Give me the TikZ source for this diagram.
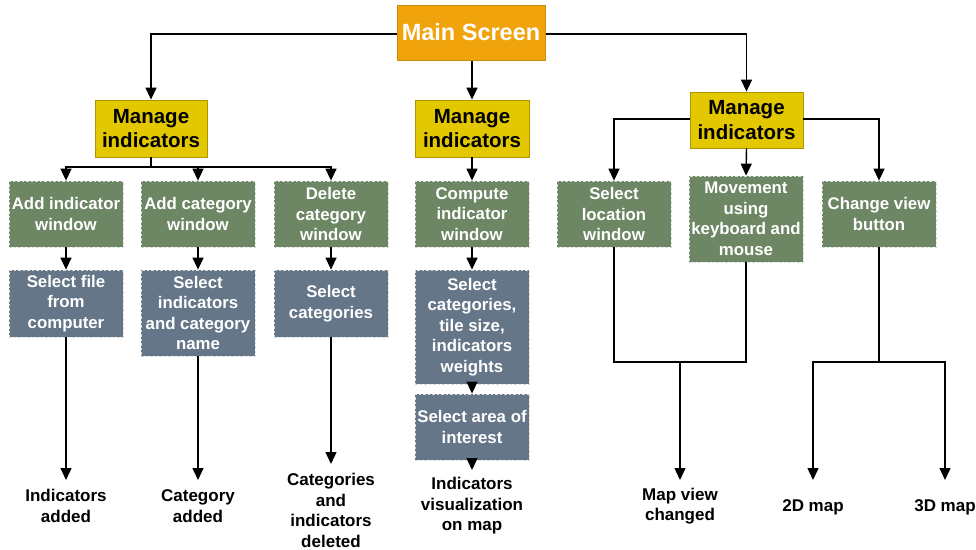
\documentclass[tikz,border=0pt]{standalone}
\usepackage{fontspec}
\setmainfont{Liberation Sans}
\usetikzlibrary{arrows.meta}
\definecolor{mainfill}{HTML}{F0A30A}
\definecolor{mainline}{HTML}{C98A12}
\definecolor{mgrfill}{HTML}{E3C800}
\definecolor{mgrline}{HTML}{B09500}
\definecolor{winfill}{HTML}{6D8764}
\definecolor{stepfill}{HTML}{647687}
\definecolor{dashline}{HTML}{D8DCD8}
\tikzset{
  x=1pt, y=-1pt,
  every node/.style={font=\bfseries, align=center, inner sep=0pt},
  mainbox/.style={fill=mainfill, draw=mainline, line width=1pt, text=white,
    font=\fontsize{23.5}{27}\selectfont\bfseries},
  mgrbox/.style={fill=mgrfill, draw=mgrline, line width=0.8pt, text=black,
    font=\fontsize{20.5}{24.5}\selectfont\bfseries},
  winbox/.style={fill=winfill, draw=dashline, dash pattern=on 2.5pt off 2pt,
    line width=0.8pt, text=white, font=\fontsize{16.8}{20.5}\selectfont\bfseries},
  stepbox/.style={winbox, fill=stepfill},
  result/.style={text=black, font=\fontsize{17}{20.5}\selectfont\bfseries},
  link/.style={draw=black, line width=1.4pt, -{Triangle[length=12pt, width=11pt]}},
  plain/.style={draw=black, line width=1.4pt},
}
\begin{document}
\begin{tikzpicture}
\useasboundingbox (0,0) rectangle (976,549);

% top level
\node[mainbox, minimum width=148pt, minimum height=55pt] (main) at (471,32.5) {Main Screen};

% three manager boxes
\node[mgrbox, minimum width=112pt, minimum height=57pt] (m1) at (151,128.5) {Manage\\indicators};
\node[mgrbox, minimum width=114pt, minimum height=57pt] (m2) at (472,128.5) {Manage\\indicators};
\node[mgrbox, minimum width=113pt, minimum height=56pt] (m3) at (746.5,120) {Manage\\indicators};

\draw[link] (main.west |- 0,34) -| (m1.north);
\draw[link] (main.south -| m2.north) -- (m2.north);
\draw[link] (main.east |- 0,34) -| (m3.north);

% windows
\node[winbox, minimum width=114pt, minimum height=66pt] (w1) at (66,214) {Add indicator\\window};
\node[winbox, minimum width=114pt, minimum height=66pt] (w2) at (198,214) {Add category\\window};
\node[winbox, minimum width=114pt, minimum height=66pt] (w3) at (331,214) {Delete\\category\\window};
\node[winbox, minimum width=114pt, minimum height=66pt] (w4) at (472,214) {Compute\\indicator\\window};
\node[winbox, minimum width=114pt, minimum height=66pt] (w5) at (614,214) {Select\\location\\window};
\node[winbox, minimum width=114pt, minimum height=86pt] (w6) at (746,219) {Movement\\using\\keyboard and\\mouse};
\node[winbox, minimum width=114pt, minimum height=66pt] (w7) at (879,214) {Change view\\button};

\coordinate (j1) at (151,167);
\draw[plain] (m1.south) -- (j1);
\draw[link] (j1) -| (w1.north);
\draw[link] (j1) -| (w2.north);
\draw[link] (j1) -| (w3.north);
\draw[link] (m2.south) -- (w4.north);
\draw[link] (m3.west |- 0,119) -| (w5.north);
\draw[link] (m3.south) -- (w6.north);
\draw[link] (m3.east |- 0,119) -| (w7.north);

% steps
\node[stepbox, minimum width=114pt, minimum height=67pt] (s1) at (66,303.5) {Select file\\from\\computer};
\node[stepbox, minimum width=114pt, minimum height=86pt] (s2) at (198,313) {Select\\indicators\\and category\\name};
\node[stepbox, minimum width=114pt, minimum height=67pt] (s3) at (331,303.5) {Select\\categories};
\node[stepbox, minimum width=114pt, minimum height=114pt] (s4) at (472,327) {Select\\categories,\\tile size,\\indicators\\weights};
\node[stepbox, minimum width=114pt, minimum height=66pt] (s5) at (472,427) {Select area of\\interest};

\draw[link] (w1.south) -- (s1.north);
\draw[link] (w2.south) -- (s2.north);
\draw[link] (w3.south) -- (s3.north);
\draw[link] (w4.south) -- (s4.north);
\draw[link] (s4.south) -- (s5.north);

% outcomes
\node[result] (r1) at (66,506) {Indicators\\added};
\node[result] (r2) at (198,506) {Category\\added};
\node[result] (r3) at (331,510.5) {Categories\\and\\indicators\\deleted};
\node[result] (r4) at (472,506) {Indicators\\visualization\\on map};
\node[result] (r5) at (680,506) {Map view\\changed};
\node[result] (r6) at (813,507) {2D map};
\node[result] (r7) at (945,507) {3D map};

\draw[link] (s1.south) -- (r1.north |- 0,480);
\draw[link] (s2.south) -- (r2.north |- 0,480);
\draw[link] (s3.south) -- (r3.north |- 0,464);
\draw[link] (s5.south) -- (r4.north |- 0,470);

\coordinate (j5) at (680,362);
\draw[plain] (w5.south) |- (j5);
\draw[plain] (w6.south) |- (j5);
\draw[link] (j5) -- (r5.north |- 0,480);

\coordinate (j7) at (879,362);
\draw[plain] (w7.south) -- (j7);
\draw[link] (j7) -| (r6.north |- 0,480);
\draw[link] (j7) -| (r7.north |- 0,480);
\end{tikzpicture}
\end{document}
